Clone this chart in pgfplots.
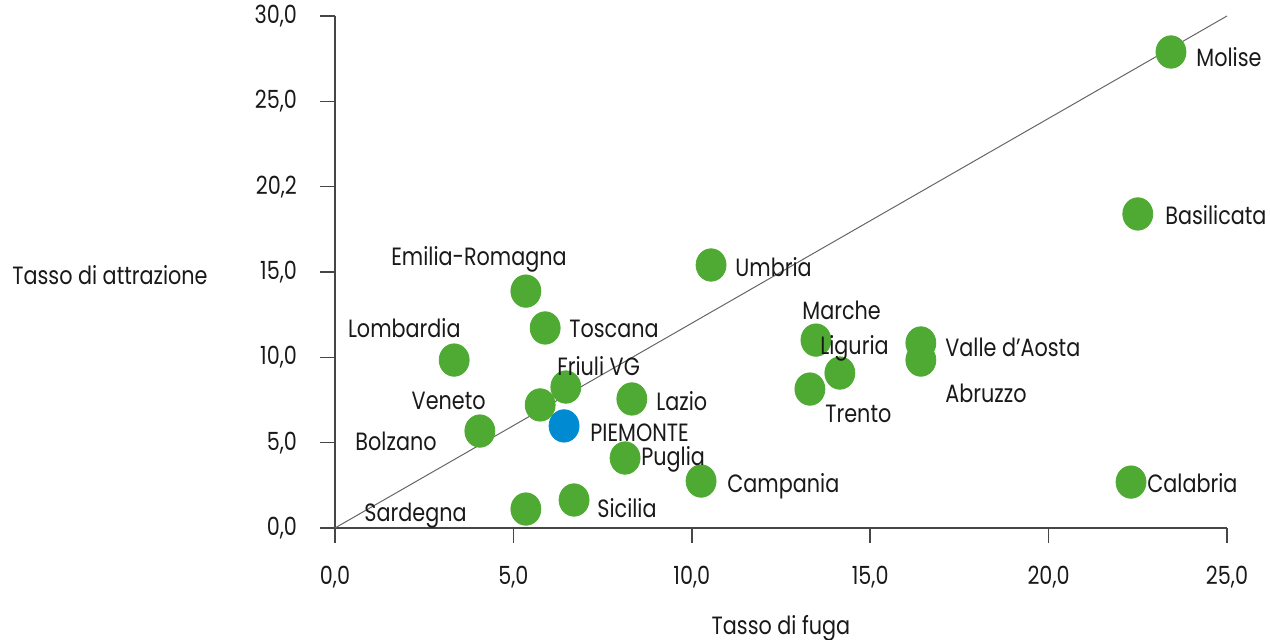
\documentclass[border=0pt]{standalone}
\usepackage{pgfplots}
\pgfplotsset{compat=1.18}
\usepackage{fontspec}
\setmainfont{Poppins}[FakeStretch=0.83]
\definecolor{ptgreen}{RGB}{78,170,50}
\definecolor{ptblue}{RGB}{0,138,210}
\definecolor{axgray}{RGB}{70,70,70}
\pgfplotstableread{
x y
23.43 27.89
22.50 18.40
22.31 2.69
10.54 15.41
13.48 11.01
14.15 9.08
13.31 8.14
16.42 10.84
16.42 9.84
5.35 13.88
5.89 11.72
3.34 9.84
6.47 8.26
8.32 7.56
5.75 7.21
4.06 5.68
8.13 4.10
10.26 2.75
6.70 1.64
5.35 1.11
}\regions
\pgfplotstableread{
x y
6.42 5.98
}\piemonte
\begin{document}
\begin{tikzpicture}[font=\fontsize{12.5}{14}\selectfont, lbl/.style={inner sep=0pt, text=black!90}]
\path[use as bounding box] (-167.5pt,-56pt) rectangle (467.5pt,264pt);
\begin{axis}[
 at={(0,0)}, anchor=south west,
 scale only axis, width=446pt, height=256pt,
 xmin=0, xmax=25, ymin=0, ymax=30,
 axis lines=left, axis line style={axgray, line width=0.8pt, -},
 xtick={0,5,...,25}, ytick={0,5,...,30},
 xticklabels={{0,0},{5,0},{10,0},{15,0},{20,0},{25,0}},
 yticklabels={{0,0},{5,0},{10,0},{15,0},{20,2},{25,0},{30,0}},
 tick align=outside, major tick length=7.5pt,
 tick style={axgray, line width=0.8pt},
 yticklabel style={anchor=east, xshift=-8pt, text=black!90},
 xticklabel style={anchor=north, yshift=-8pt, text=black!90},
 clip=false,
]
\addplot[gray!80!black, line width=0.5pt] coordinates {(0,0) (25,30)};
\addplot[only marks, mark=*, mark size=7.5pt, mark options={fill=ptgreen, draw=ptgreen, yscale=1.08}] table {\regions};
\addplot[only marks, mark=*, mark size=7.5pt, mark options={fill=ptblue, draw=ptblue, yscale=1.08}] table {\piemonte};
\end{axis}
\node[lbl, anchor=base west] at (430.5pt,230.5pt) {Molise};
\node[lbl, anchor=base west] at (415pt,151.5pt) {Basilicata};
\node[lbl, anchor=base west] at (406pt,17.5pt) {Calabria};
\node[lbl, anchor=base west] at (200pt,125.5pt) {Umbria};
\node[lbl, anchor=base west] at (233.5pt,104pt) {Marche};
\node[lbl, anchor=base west] at (242.5pt,86.5pt) {Liguria};
\node[lbl, anchor=base west] at (245pt,52.5pt) {Trento};
\node[lbl, anchor=base west] at (305pt,85.5pt) {Valle d'Aosta};
\node[lbl, anchor=base west] at (305pt,62.5pt) {Abruzzo};
\node[lbl, anchor=base] at (72pt,131pt) {Emilia-Romagna};
\node[lbl, anchor=base west] at (117pt,95pt) {Toscana};
\node[lbl, anchor=base east] at (63pt,95pt) {Lombardia};
\node[lbl, anchor=base west] at (111pt,76pt) {Friuli VG};
\node[lbl, anchor=base west] at (160.5pt,58.5pt) {Lazio};
\node[lbl, anchor=base east] at (75.5pt,59pt) {Veneto};
\node[lbl, anchor=base west] at (127.5pt,43pt) {PIEMONTE};
\node[lbl, anchor=base east] at (51pt,38.5pt) {Bolzano};
\node[lbl, anchor=base west] at (153pt,31pt) {Puglia};
\node[lbl, anchor=base west] at (196pt,17.5pt) {Campania};
\node[lbl, anchor=base west] at (131pt,5pt) {Sicilia};
\node[lbl, anchor=base east] at (66pt,3pt) {Sardegna};
\node[lbl] at (-112.5pt,126.5pt) {Tasso di attrazione};
\node[lbl] at (223pt,-50pt) {Tasso di fuga};
\end{tikzpicture}
\end{document}
